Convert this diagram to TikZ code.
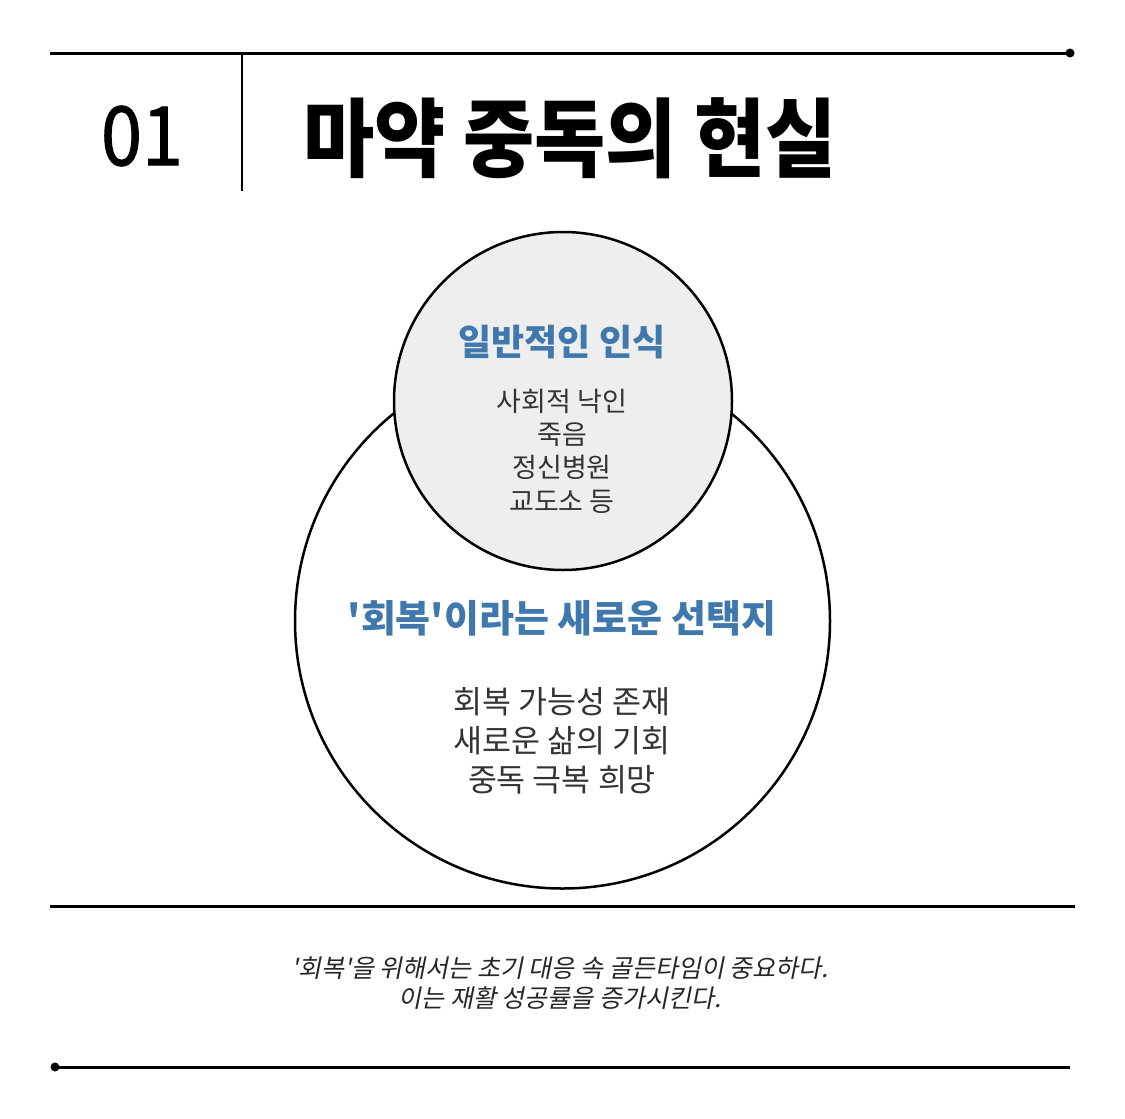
\documentclass[tikz,border=0pt]{standalone}
\usepackage{fontspec}
\setmainfont{Noto Sans CJK KR}
\newfontfamily\krfont{Noto Sans CJK KR}
\newfontfamily\krtitle[FakeStretch=0.9]{Noto Sans CJK KR}
\newfontfamily\krnum[FakeStretch=0.9,FakeBold=1.2]{Noto Sans CJK KR}
\newfontfamily\krit[FakeSlant=0.2]{Noto Sans CJK KR}
\definecolor{headblue}{RGB}{62,120,172}
\definecolor{bodygray}{RGB}{51,51,51}
\definecolor{circfill}{RGB}{238,238,238}
\tikzset{
  rule/.style={line width=3pt, black},
  ring/.style={circle, draw=black, line width=2.5pt, inner sep=0pt},
  heading/.style={text=headblue, font=\krfont\bfseries\fontsize{36}{40}\selectfont, inner sep=0pt},
  bodytext/.style={text=bodygray, align=center, inner sep=0pt},
}
\begin{document}
\begin{tikzpicture}[x=1pt, y=-1pt]
\useasboundingbox (0,0) rectangle (1125,1119);
\fill[white] (0,0) rectangle (1125,1119);
% header rules
\coordinate (tl) at (50,53);
\coordinate (tr) at (1070,53);
\draw[rule] (tl) -- (tr);
\fill (tr) circle (4.5);
\coordinate (vt) at (242,53);
\coordinate (vb) at (242,191);
\draw[line width=2.2pt] (vt) -- (vb);
\node[inner sep=0pt, font=\krnum\fontsize{82}{90}\selectfont] (num) at (142,136) {01};
\node[inner sep=0pt, anchor=west, font=\krtitle\bfseries\fontsize{86}{95}\selectfont] (title) at (303,138) {마약 중독의 현실};
% circles
\node[ring, minimum size=535pt, fill=white] (big) at (562.5,621) {};
\node[ring, minimum size=338pt, fill=circfill] (small) at (563,401) {};
% small circle text
\node[heading] (h1) at (562,342) {일반적인 인식};
\node[bodytext, font=\krfont\fontsize{27}{33.3}\selectfont] (b1) at (562,451) {사회적 낙인\\죽음\\정신병원\\교도소 등};
% big circle text
\node[heading, font=\krfont\bfseries\fontsize{38}{42}\selectfont] (h2) at (562,618) {'회복'이라는 새로운 선택지};
\node[bodytext, font=\krfont\fontsize{31.5}{39}\selectfont] (b2) at (562,741) {회복 가능성 존재\\새로운 삶의 기회\\중독 극복 희망};
% lower rule
\coordinate (ml) at (50,906);
\coordinate (mr) at (1075,906);
\draw[rule] (ml) -- (mr);
% footer
\node[bodytext, text=black!85, font=\krit\fontsize{25}{30}\selectfont] (foot) at (560,983) {'회복'을 위해서는 초기 대응 속 골든타임이 중요하다.\\이는 재활 성공률을 증가시킨다.};
% bottom rule
\coordinate (bl) at (55,1067);
\coordinate (br) at (1070,1067);
\draw[rule] (bl) -- (br);
\fill (bl) circle (4.5);
\end{tikzpicture}
\end{document}
